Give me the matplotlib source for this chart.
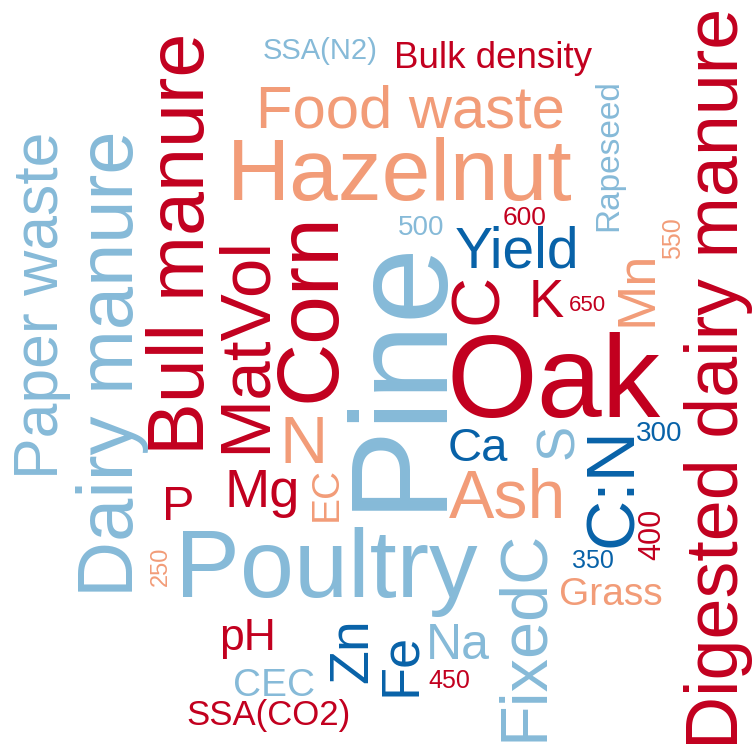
import matplotlib
matplotlib.use('Agg')
import matplotlib.pyplot as plt

plt.rcParams['font.family'] = ['Liberation Sans', 'DejaVu Sans']

# word cloud data: term and its weight (drawn as font size)
words = ['Pine', 'Oak', 'Poultry', 'Hazelnut', 'Corn', 'Bull manure', 'Dairy manure',
         'Digested dairy manure', 'MatVol', 'C', 'C:N', 'Ash', 'FixedC', 'N', 'Paper waste',
         'Food waste', 'Yield', 'Zn', 'Mg', 'Mn', 'Fe', 'K', 'S', 'Na', 'P', 'Ca', 'pH',
         'Grass', 'CEC', 'EC', 'Rapeseed', 'Bulk density', 'SSA(CO2)', 'SSA(N2)',
         '400', '500', '300', '600', '350', '450', '550', '250', '650']
weights = [99, 84, 70, 63, 63, 57, 56,
           53, 51, 50, 50, 49, 48, 48, 45,
           43, 41, 40, 39, 39, 39, 38, 38, 36, 35, 34, 32,
           28, 28, 28, 24, 26.5, 25, 21,
           22, 20, 20, 19, 18, 18, 18, 17, 16]
groups = ['lb', 'r', 'lb', 's', 'r', 'r', 'lb',
          'r', 'r', 'r', 'db', 's', 'lb', 's', 'lb',
          's', 'db', 'db', 'r', 's', 'db', 'r', 'lb', 'lb', 'r', 'db', 'r',
          's', 'lb', 's', 'lb', 'r', 'r', 'lb',
          'r', 'lb', 'db', 'r', 'db', 'r', 's', 's', 'r']

palette = {'r': '#c2001f', 's': '#f29c78', 'lb': '#86bad8', 'db': '#0862a8'}

# layout of the cloud (pixel position of baseline centre, rotation)
layout = {
    'Pine': (437, 372, 90), 'Oak': (554, 417, 0), 'Poultry': (326, 597, 0),
    'Hazelnut': (400, 200, 0), 'Corn': (334, 307, 90), 'Bull manure': (204, 244, 90),
    'Dairy manure': (133, 364, 90), 'Digested dairy manure': (738, 378, 90),
    'MatVol': (265, 344, 90), 'C': (497, 299, 90), 'C:N': (632, 487, 90),
    'Ash': (507, 518, 0), 'FixedC': (542, 635, 90), 'N': (304, 463, 0),
    'Paper waste': (58, 305, 90), 'Food waste': (410, 128, 0), 'Yield': (517, 268, 0),
    'Zn': (367, 651, 90), 'Mg': (262, 507, 0), 'Mn': (651, 288, 90),
    'Fe': (415, 664, 90), 'K': (546, 317, 0), 'S': (573, 441, 90),
    'Na': (458, 659, 0), 'P': (178, 520, 0), 'Ca': (478, 461, 0),
    'pH': (248, 650, 0), 'Grass': (611, 605, 0), 'CEC': (274, 696, 0),
    'EC': (337, 494, 90), 'Rapeseed': (617, 155, 90), 'Bulk density': (493, 68, 0),
    'SSA(CO2)': (268, 725, 0), 'SSA(N2)': (320, 59, 0),
    '400': (660, 534, 90), '500': (421, 235, 0), '300': (659, 441, 0),
    '600': (525, 225, 0), '350': (593, 568, 0), '450': (449, 688, 0),
    '550': (680, 238, 90), '250': (167, 566, 90), '650': (587, 311, 0),
}

fig = plt.figure(figsize=(7.55, 7.47), dpi=100)
ax = fig.add_axes([0, 0, 1, 1])
ax.set_xlim(0, 755)
ax.set_ylim(747, 0)
ax.axis('off')

for w, size, g in zip(words, weights, groups):
    x, y, rot = layout[w]
    ax.text(x, y, w, fontsize=size, color=palette[g], rotation=rot,
            rotation_mode='anchor', ha='center', va='baseline')

plt.savefig('out.png', dpi=100, facecolor='white')
